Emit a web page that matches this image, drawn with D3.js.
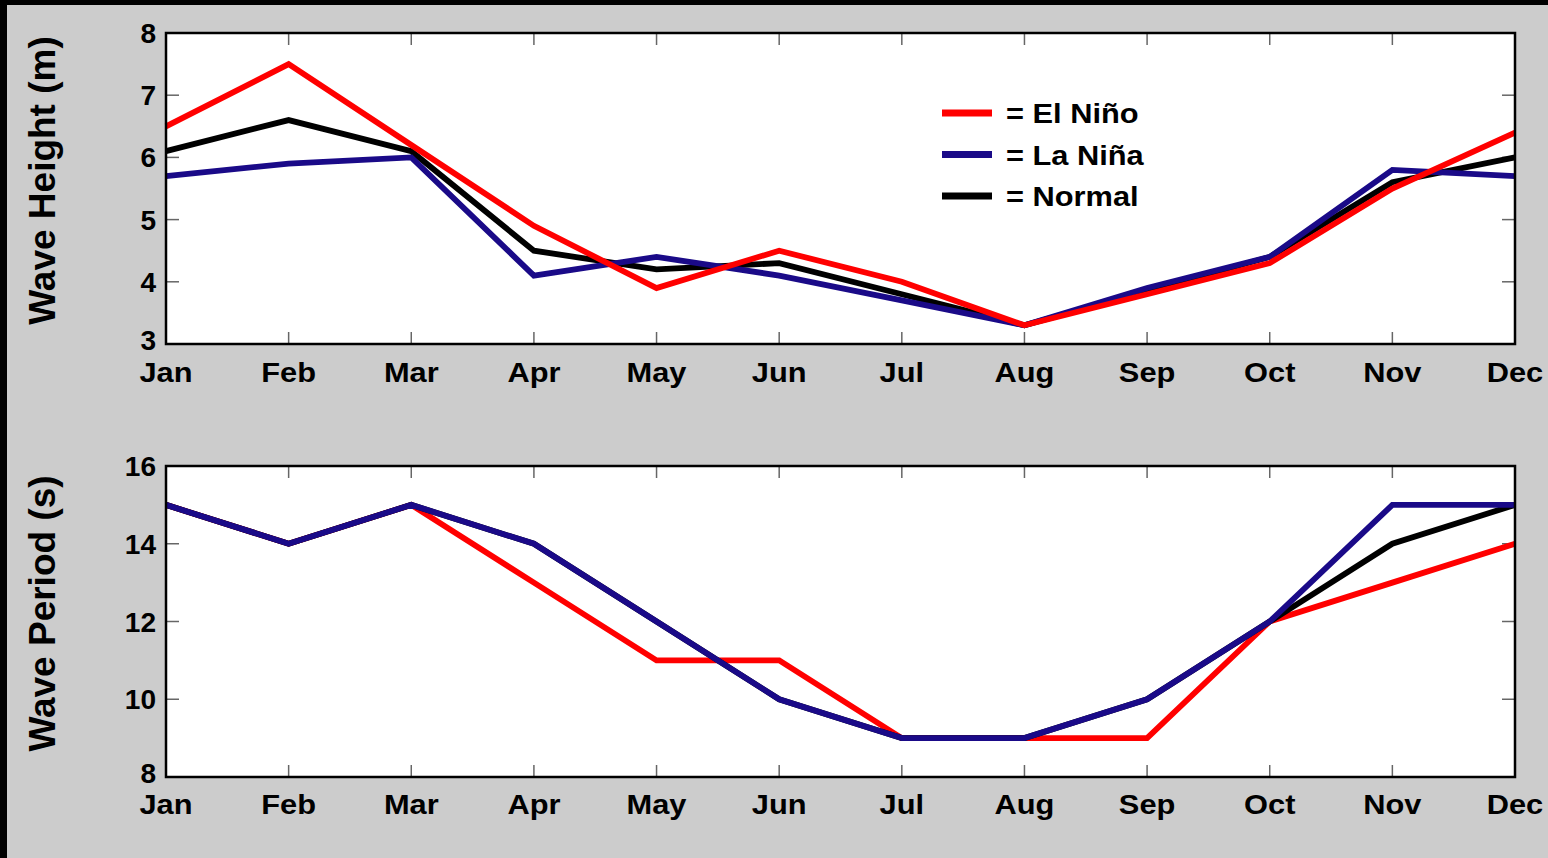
<!DOCTYPE html>
<html><head><meta charset="utf-8">
<script src="https://cdn.jsdelivr.net/npm/d3@7"></script>
<style>
html,body{margin:0;padding:0;background:#000;}
svg{display:block;}
text{font-family:"Liberation Sans",Arial,sans-serif;font-weight:bold;fill:#000;}
</style></head><body>
<svg id="chart" width="1548" height="858"></svg>
<script>
const months = ["Jan","Feb","Mar","Apr","May","Jun","Jul","Aug","Sep","Oct","Nov","Dec"];
const seriesNames = ["El Niño","La Niña","Normal"];
const seriesColors = ["#ff0000","#1a0a88","#000000"];

const heightElNino = [6.5,7.5,6.2,4.9,3.9,4.5,4.0,3.3,3.8,4.3,5.5,6.4];
const heightLaNina = [5.7,5.9,6.0,4.1,4.4,4.1,3.7,3.3,3.9,4.4,5.8,5.7];
const heightNormal = [6.1,6.6,6.1,4.5,4.2,4.3,3.8,3.3,3.85,4.4,5.6,6.0];

const periodElNino = [15,14,15,13,11,11,9,9,9,12,13,14];
const periodLaNina = [15,14,15,14,12,10,9,9,10,12,15,15];
const periodNormal = [15,14,15,14,12,10,9,9,10,12,14,15];

const heightTicks = [3,4,5,6,7,8];
const periodTicks = [8,10,12,14,16];

const svg = d3.select("#chart");
svg.append("rect").attr("x",7).attr("y",5).attr("width",1541).attr("height",853).attr("fill","#cccccc");

const x = d3.scalePoint().domain(months).range([166,1515]);

function label(g, px, py, txt, size, anchor, sx){
  g.append("text").attr("transform",`translate(${px},${py}) scale(${sx},1)`)
    .attr("text-anchor",anchor).attr("font-size",size).text(txt);
}

function panel(top, bottom, domain, ticks, title, data, order, monthBaseline){
  const y = d3.scaleLinear().domain(domain).range([bottom, top]);
  const g = svg.append("g");
  g.append("rect").attr("x",166).attr("y",top).attr("width",1515-166).attr("height",bottom-top).attr("fill","#fff");
  const tk = g.append("g").attr("stroke","#666").attr("stroke-width",1.5);
  months.slice(1,-1).forEach(m=>{
    tk.append("line").attr("x1",x(m)).attr("x2",x(m)).attr("y1",bottom).attr("y2",bottom-12);
    tk.append("line").attr("x1",x(m)).attr("x2",x(m)).attr("y1",top).attr("y2",top+12);
  });
  ticks.slice(1,-1).forEach(t=>{
    tk.append("line").attr("x1",166).attr("x2",179).attr("y1",y(t)).attr("y2",y(t));
    tk.append("line").attr("x1",1515).attr("x2",1502).attr("y1",y(t)).attr("y2",y(t));
  });
  const line = d3.line().x((d,i)=>x(months[i])).y(d=>y(d));
  order.forEach(k=>{
    g.append("path").datum(data[k]).attr("d",line).attr("fill","none")
      .attr("stroke",seriesColors[k]).attr("stroke-width",5.8).attr("stroke-linejoin","miter");
  });
  g.append("rect").attr("x",166).attr("y",top).attr("width",1515-166).attr("height",bottom-top)
    .attr("fill","none").attr("stroke","#000").attr("stroke-width",2.5);
  ticks.forEach((t,i)=>{
    const off = i===0 ? 6 : 10;
    label(g,156,y(t)+off,t,27,"end",1.04);
  });
  months.forEach(m=>{
    label(g,x(m),monthBaseline,m,28,"middle",1.1);
  });
  g.append("text").attr("transform",`translate(55,${(top+bottom)/2-8}) rotate(-90)`)
    .attr("text-anchor","middle").attr("font-size",37).text(title);
  return y;
}

panel(33,344,[3,8],heightTicks,"Wave Height (m)",[heightElNino,heightLaNina,heightNormal],[2,1,0],382);
panel(466,777,[8,16],periodTicks,"Wave Period (s)",[periodElNino,periodLaNina,periodNormal],[0,2,1],814);

const leg = svg.append("g");
seriesNames.forEach((n,i)=>{
  const yy = 113 + i*41.5;
  leg.append("line").attr("x1",942).attr("x2",992).attr("y1",yy).attr("y2",yy)
    .attr("stroke",seriesColors[i]).attr("stroke-width",7);
  label(leg,1006,yy+10,"= " + n,28,"start",1.1);
});
</script>
</body></html>
